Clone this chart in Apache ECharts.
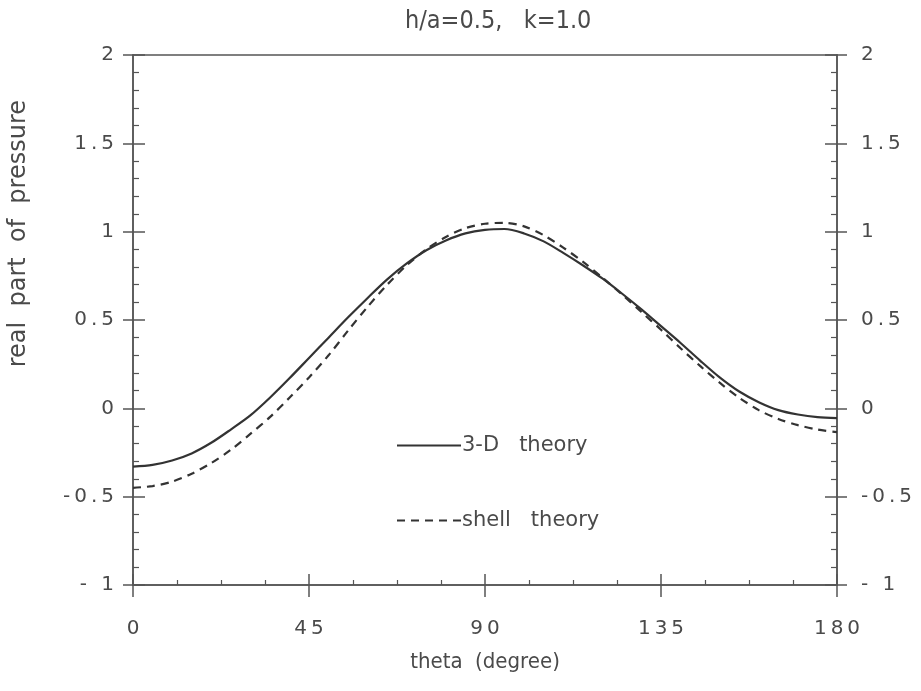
<!DOCTYPE html>
<html>
<head>
<meta charset="utf-8">
<script src="https://cdn.jsdelivr.net/npm/echarts@6/dist/echarts.min.js"></script>
<style>
  html, body { margin: 0; padding: 0; background: #fff; }
  #chart { width: 921px; height: 691px; }
</style>
</head>
<body>
<div id="chart"></div>
<script>
// theta in degrees, every 5
const theta = [0, 5, 10, 15, 20, 25, 30, 35, 40, 45, 50, 55, 60, 65, 70, 75, 80, 85, 90,
  95, 100, 105, 110, 115, 120, 125, 130, 135, 140, 145, 150, 155, 160, 165, 170, 175, 180];
// 3-D theory (solid)
const solid = [-0.33, -0.32, -0.295, -0.255, -0.195, -0.12, -0.04, 0.06, 0.17, 0.285, 0.4, 0.515, 0.625, 0.73, 0.82, 0.895, 0.95, 0.99, 1.01,
  1.015, 0.99, 0.945, 0.88, 0.81, 0.735, 0.65, 0.56, 0.465, 0.37, 0.27, 0.175, 0.095, 0.035, -0.01, -0.035, -0.05, -0.055];
// shell theory (dashed)
const shell = [-0.45, -0.44, -0.415, -0.37, -0.31, -0.235, -0.145, -0.05, 0.06, 0.175, 0.3, 0.44, 0.575, 0.7, 0.81, 0.9, 0.97, 1.02, 1.045,
  1.05, 1.03, 0.98, 0.91, 0.83, 0.74, 0.645, 0.545, 0.445, 0.34, 0.24, 0.145, 0.06, -0.01, -0.06, -0.095, -0.12, -0.135];
const xTicks = [0, 45, 90, 135, 180];
const yLabels = { '-1': '- 1', '-0.5': '-0.5', '0': '0', '0.5': '0.5', '1': '1', '1.5': '1.5', '2': '2' };

const ink = '#333';
const axisCol = '#555';
const txt = '#4a4a4a';
const narrow = "'DejaVu Sans Condensed', 'Liberation Sans', sans-serif";

const pairs = (ys) => theta.map((t, i) => [t, ys[i]]);
const spaced = (s) => s.split('').join('\u2009');

const yBase = { type: 'value', min: -1, max: 2, interval: 0.5, splitLine: { show: false } };
const xBase = { type: 'value', min: 0, max: 180, interval: 45, splitLine: { show: false } };

const option = {
  animation: false,
  backgroundColor: '#fff',
  title: {
    text: 'h/a=0.5,   k=1.0',
    left: 400,
    top: 4,
    textStyle: { fontFamily: narrow, fontWeight: 'normal', fontSize: 25, color: txt }
  },
  grid: { left: 133, right: 84, top: 55, bottom: 106 },
  legend: {
    orient: 'vertical',
    left: 391,
    top: 430,
    itemWidth: 64,
    itemHeight: 12,
    itemGap: 54,
    itemStyle: { opacity: 0 },
    textStyle: { fontFamily: 'DejaVu Sans', fontSize: 21, color: txt, padding: [0, 0, 0, -4] },
    data: [
      { name: '3-D   theory' },
      { name: 'shell   theory' }
    ]
  },
  graphic: [{
    type: 'text',
    left: 7,
    top: 100,
    rotation: Math.PI / 2,
    style: { text: 'real  part  of  pressure', fontFamily: 'DejaVu Sans', fontSize: 24, fill: txt }
  }],
  xAxis: [
    Object.assign({}, xBase, {
      position: 'bottom',
      axisLine: { onZero: false, lineStyle: { color: axisCol, width: 1.5 } },
      axisTick: { show: true, inside: false, length: 12, lineStyle: { color: axisCol, width: 1.5 } },
      axisLabel: {
        margin: 34, color: txt, fontFamily: 'DejaVu Sans', fontSize: 20,
        formatter: (v) => xTicks.includes(v) ? spaced(String(v)) : ''
      },
      name: 'theta  (degree)',
      nameLocation: 'middle',
      nameGap: 66,
      nameTextStyle: { fontFamily: narrow, fontSize: 22, color: txt }
    }),
    Object.assign({}, xBase, {
      position: 'bottom',
      axisLine: { onZero: false, lineStyle: { color: axisCol, width: 1.5 } },
      axisTick: { show: true, inside: true, length: 11, lineStyle: { color: axisCol, width: 1.5 } },
      minorTick: { show: true, splitNumber: 4, length: 5, lineStyle: { color: axisCol, width: 1.2 } },
      axisLabel: { show: false }
    }),
    Object.assign({}, xBase, {
      position: 'top',
      axisLine: { onZero: false, lineStyle: { color: axisCol, width: 1.5 } },
      axisTick: { show: false },
      axisLabel: { show: false }
    })
  ],
  yAxis: [
    Object.assign({}, yBase, {
      position: 'left',
      axisLine: { onZero: false, lineStyle: { color: axisCol, width: 1.5 } },
      axisTick: { show: true, inside: false, length: 10, lineStyle: { color: axisCol, width: 1.5 } },
      axisLabel: { margin: 19, color: txt, fontFamily: 'DejaVu Sans', fontSize: 20, formatter: (v) => spaced(yLabels[String(v)]) }
    }),
    Object.assign({}, yBase, {
      position: 'left',
      axisLine: { onZero: false, lineStyle: { color: axisCol, width: 1.5 } },
      axisTick: { show: true, inside: true, length: 12, lineStyle: { color: axisCol, width: 1.5 } },
      minorTick: { show: true, splitNumber: 5, length: 6, lineStyle: { color: axisCol, width: 1.2 } },
      axisLabel: { show: false }
    }),
    Object.assign({}, yBase, {
      position: 'right',
      axisLine: { onZero: false, lineStyle: { color: axisCol, width: 1.5 } },
      axisTick: { show: true, inside: false, length: 10, lineStyle: { color: axisCol, width: 1.5 } },
      axisLabel: { margin: 24, color: txt, fontFamily: 'DejaVu Sans', fontSize: 20, formatter: (v) => spaced(yLabels[String(v)]) }
    }),
    Object.assign({}, yBase, {
      position: 'right',
      axisLine: { onZero: false, lineStyle: { color: axisCol, width: 1.5 } },
      axisTick: { show: true, inside: true, length: 12, lineStyle: { color: axisCol, width: 1.5 } },
      minorTick: { show: true, splitNumber: 5, length: 6, lineStyle: { color: axisCol, width: 1.2 } },
      axisLabel: { show: false }
    })
  ],
  series: [
    {
      name: '3-D   theory',
      type: 'line',
      smooth: 0.3,
      showSymbol: false,
      symbol: 'none',
      data: pairs(solid),
      lineStyle: { color: ink, width: 2.2, type: 'solid' },
      itemStyle: { color: ink }
    },
    {
      name: 'shell   theory',
      type: 'line',
      smooth: 0.3,
      showSymbol: false,
      symbol: 'none',
      data: pairs(shell),
      lineStyle: { color: ink, width: 2.2, type: [8, 6] },
      itemStyle: { color: ink }
    }
  ]
};

const myChart = echarts.init(document.getElementById('chart'));
myChart.setOption(option);
</script>
</body>
</html>
